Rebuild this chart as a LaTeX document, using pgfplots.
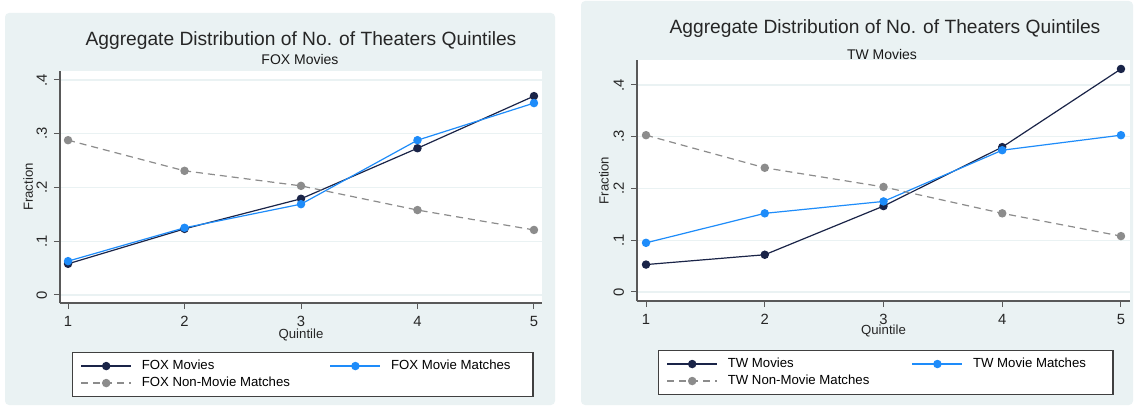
\documentclass[border=0pt]{standalone}
\usepackage{fontspec}
\setmainfont{Liberation Sans}
\usepackage{pgfplots}
\pgfplotsset{compat=1.18}
\definecolor{bgc}{RGB}{234,242,243}
\definecolor{navyc}{RGB}{26,36,72}
\definecolor{bluec}{RGB}{30,140,250}
\definecolor{grayc}{RGB}{140,140,140}
\definecolor{gridc}{RGB}{234,242,243}

\pgfplotsset{
 stata/.style={
  scale only axis,
  axis x line*=bottom, axis y line*=left,
  axis line style={black!65, line width=0.6pt, -},
  axis background/.style={fill=white},
  xtick={1,2,3,4,5},
  xticklabels={1,2,3,4,5},
  ytick={0,0.1,0.2,0.3,0.4},
  yticklabels={0,.1,.2,.3,.4},
  tick align=outside,
  major tick length=3pt,
  tick style={black!65, line width=0.5pt},
  ymajorgrids, grid style={gridc, line width=0.7pt},
  ticklabel style={font=\fontsize{7.4}{8.4}\selectfont, text=black!85},
  yticklabel style={rotate=90, anchor=south},
  xlabel={Quintile},
  ylabel={Fraction},
  label style={font=\fontsize{6.6}{7.6}\selectfont, text=black!85},
  legend columns=2,
  legend cell align=left,
  legend image code/.code={\draw[#1, mark repeat=2, mark phase=2] plot coordinates {(0pt,0pt) (12.5pt,0pt) (25pt,0pt)};},
  legend style={draw=black!75, line width=0.6pt, fill=white, inner xsep=4pt, inner ysep=3pt,
    font=\fontsize{6.6}{7.5}\selectfont, row sep=1pt,
    /tikz/every odd column/.style={column sep=5pt},
    nodes={inner xsep=0pt, inner ysep=0.5pt}},
 },
 movies/.style={navyc, line width=0.6pt, mark=*, mark size=1.8pt, mark options={solid, fill=navyc, draw=navyc}},
 matches/.style={bluec, line width=0.6pt, mark=*, mark size=1.8pt, mark options={solid, fill=bluec, draw=bluec}},
 nonmov/.style={grayc, line width=0.6pt, dash pattern=on 3.5pt off 2.5pt, mark=*, mark size=1.8pt, mark options={solid, fill=grayc, draw=grayc}},
}
\newcommand{\lt}[2]{\makebox[#1][l]{\rule[-1.6pt]{0pt}{6.6pt}#2}}

\begin{document}
\begin{tikzpicture}
\useasboundingbox (0,0) rectangle (567.5pt,204pt);
\fill[bgc, rounded corners=2pt] (2.5pt,1.5pt) rectangle (277.5pt,197.5pt);
\fill[bgc, rounded corners=2pt] (290.5pt,1.5pt) rectangle (566.5pt,203.5pt);

% Left panel: FOX
\begin{axis}[stata, at={(30pt,52.5pt)}, anchor=south west,
  width=241pt, height=116pt,
  xmin=0.931, xmax=5.069, ymin=-0.0149, ymax=0.4167,
  xlabel style={at={(axis description cs:0.5,-0.151)}, anchor=base},
  ylabel style={at={(axis description cs:-0.066,0.5)}, anchor=center},
  legend style={at={(0.0249,-0.211)}, anchor=north west}]
\addplot[movies] coordinates {(1,0.058) (2,0.123) (3,0.179) (4,0.273) (5,0.370)};
\addlegendentry{\lt{94pt}{FOX Movies}}
\addplot[matches] coordinates {(1,0.063) (2,0.125) (3,0.169) (4,0.288) (5,0.357)};
\addlegendentry{\lt{67pt}{FOX Movie Matches}}
\addplot[nonmov] coordinates {(1,0.288) (2,0.231) (3,0.203) (4,0.158) (5,0.121)};
\addlegendentry{\lt{94pt}{FOX Non-Movie Matches}}
\end{axis}
\node[anchor=base, font=\fontsize{9.6}{11}\selectfont, text=black!85] at (150.5pt,181pt) {Aggregate Distribution of No. of Theaters Quintiles};
\node[anchor=base, font=\fontsize{7}{8}\selectfont, text=black!90] at (150pt,171.75pt) {FOX Movies};

% Right panel: TW
\begin{axis}[stata, at={(318.5pt,53.5pt)}, anchor=south west,
  width=246.5pt, height=120.5pt,
  xmin=0.924, xmax=5.076, ymin=-0.0174, ymax=0.4483,
  xlabel style={at={(axis description cs:0.5,-0.141)}, anchor=base},
  ylabel style={at={(axis description cs:-0.067,0.5)}, anchor=center},
  legend style={at={(0.0426,-0.203)}, anchor=north west}]
\addplot[movies] coordinates {(1,0.053) (2,0.072) (3,0.166) (4,0.280) (5,0.431)};
\addlegendentry{\lt{92pt}{TW Movies}}
\addplot[matches] coordinates {(1,0.095) (2,0.152) (3,0.175) (4,0.274) (5,0.303)};
\addlegendentry{\lt{66pt}{TW Movie Matches}}
\addplot[nonmov] coordinates {(1,0.303) (2,0.240) (3,0.203) (4,0.152) (5,0.108)};
\addlegendentry{\lt{92pt}{TW Non-Movie Matches}}
\end{axis}
\node[anchor=base, font=\fontsize{9.6}{11}\selectfont, text=black!85] at (442.5pt,187pt) {Aggregate Distribution of No. of Theaters Quintiles};
\node[anchor=base, font=\fontsize{7}{8}\selectfont, text=black!90] at (441pt,174.25pt) {TW Movies};
\end{tikzpicture}
\end{document}
